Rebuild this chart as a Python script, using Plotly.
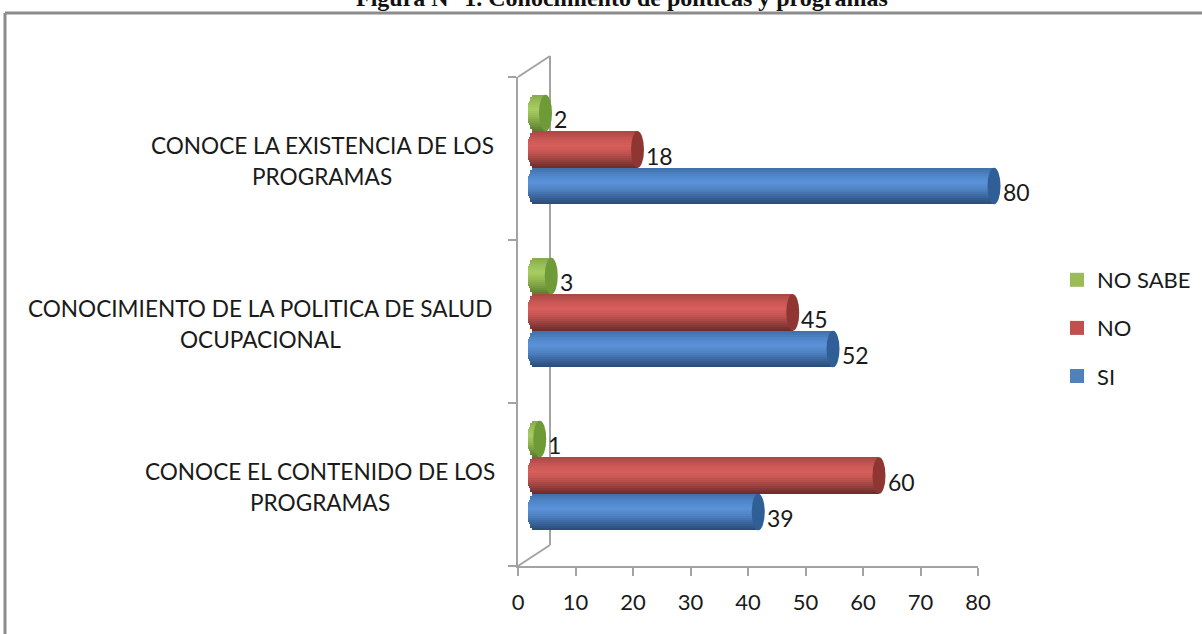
import plotly.graph_objects as go

W, H = 1202, 634

categories = ['CONOCE EL CONTENIDO DE LOS<br>PROGRAMAS',
              'CONOCIMIENTO DE LA POLITICA DE SALUD<br>OCUPACIONAL',
              'CONOCE LA EXISTENCIA DE LOS<br>PROGRAMAS']
si = [39, 52, 80]
no = [60, 45, 18]
no_sabe = [1, 3, 2]
x_ticks = [0, 10, 20, 30, 40, 50, 60, 70, 80]

# name, values, legend colour, end cap colour, cylinder shading top to bottom
series = [
    ('SI', si, '#4F81BD', '#2F5F96', ['#3F6FA8', '#4F85C8', '#5B92DA', '#4F82C2', '#3A659C', '#294B78']),
    ('NO', no, '#C0504D', '#8F3633', ['#A84644', '#C65553', '#D85F5C', '#BE514F', '#93403D', '#6A2A29']),
    ('NO SABE', no_sabe, '#9BBB59', '#6F9A38', ['#86A94A', '#9ABF57', '#A8CD62', '#94B952', '#779A3F', '#5C7C2E']),
]

# pixel geometry of the picture
AX_L, AX_R, AX_T, AX_B = 518, 978, 77, 566
DEPTH_X, DEPTH_Y = 32, 21
PX_PER_UNIT = (AX_R - AX_L) / 80
BAR_SHIFT_X, BAR_SHIFT_Y = 16, 9
BAR_W = 0.224
CAP_R = 6.5
STRIPS = 18
TEXT = '#1a1a1a'
LABEL_CENTRES = [320, 260, 322]  # px, middle of the widest line of each category
LINE_SHIFTS = [13, -18]


def px(x):
    return x / W


def py(y):
    return 1 - y / H


def mix(stops, t):
    pos = t * (len(stops) - 1)
    i = min(int(pos), len(stops) - 2)
    f = pos - i
    a = [int(stops[i][k:k + 2], 16) for k in (1, 3, 5)]
    b = [int(stops[i + 1][k:k + 2], 16) for k in (1, 3, 5)]
    return 'rgb(%d,%d,%d)' % tuple(round(p + (q - p) * f) for p, q in zip(a, b))


fig = go.Figure()

# legend entries, top to bottom
for name, values, colour, cap, stops in reversed(series):
    fig.add_trace(go.Scatter(x=[None], y=[None], name=name, mode='markers',
                             marker=dict(symbol='square', size=14, color=colour),
                             xaxis='x2', yaxis='y2', legendgroup=name))

# x axis carrier, so the ticks come from the real scale
fig.add_trace(go.Scatter(x=x_ticks, y=[0] * len(x_ticks), mode='markers', marker_opacity=0,
                         showlegend=False, hoverinfo='skip'))

shapes = []
annotations = []
idx = list(range(len(categories)))
r_units = CAP_R / PX_PER_UNIT

for s, (name, values, colour, cap, stops) in enumerate(series):
    group_off = (s - 1.5) * BAR_W
    # strips from the bottom of the cylinder to the top
    for k in range(STRIPS):
        t = (k + 0.5) / STRIPS
        round_end = r_units * (1 - (2 * t - 1) ** 2) ** 0.5
        fig.add_trace(go.Bar(
            x=[v + round_end for v in values], y=idx,
            base=[-round_end] * len(values),
            width=BAR_W / STRIPS, offset=group_off + k * BAR_W / STRIPS,
            orientation='h', marker=dict(color=mix(stops, 1 - t), line_width=0),
            xaxis='x2', yaxis='y2', showlegend=False, hoverinfo='skip'))
    for i, v in zip(idx, values):
        y0 = i + group_off
        shapes.append(dict(type='circle', xref='x2', yref='y2', xsizemode='pixel', xanchor=v,
                           x0=-CAP_R, x1=CAP_R, y0=y0, y1=y0 + BAR_W,
                           fillcolor=cap, line_width=0, layer='above'))
        annotations.append(dict(x=v, y=y0 + BAR_W / 2, xref='x2', yref='y2', text=str(v),
                                showarrow=False, xanchor='left', xshift=CAP_R, yshift=-6,
                                font=dict(family='Lato', size=23, color=TEXT)))

# category labels, one annotation per line for the wider line spacing of the original
for i, cat in enumerate(categories):
    for line, shift in zip(cat.split('<br>'), LINE_SHIFTS):
        annotations.append(dict(x=px(LABEL_CENTRES[i]), y=i, xref='paper', yref='y', text=line,
                                showarrow=False, xanchor='center', yshift=shift,
                                font=dict(family='Lato', size=22.6, color=TEXT)))

annotations.append(dict(x=px(622), y=py(13), xref='paper', yref='paper', yanchor='bottom',
                        text='<b>Figura N° 1. Conocimiento de políticas y programas</b>',
                        showarrow=False,
                        font=dict(family='Liberation Serif', size=24, color='#111')))

GREY = '#a3a3a3'
frame = [
    (AX_L + DEPTH_X, AX_T - DEPTH_Y, AX_L + DEPTH_X, AX_B - DEPTH_Y),
    (AX_L, AX_T, AX_L + DEPTH_X, AX_T - DEPTH_Y),
    (AX_L, AX_B, AX_L + DEPTH_X, AX_B - DEPTH_Y),
]
for x0, y0, x1, y1 in frame:
    shapes.append(dict(type='line', xref='paper', yref='paper', x0=px(x0), y0=py(y0), x1=px(x1), y1=py(y1),
                       line=dict(color=GREY, width=2), layer='below'))

# outer border, open at the bottom and right as in the crop
for x0, y0, x1, y1 in [(5, 13, W, 13), (5, 13, 5, H)]:
    shapes.append(dict(type='line', xref='paper', yref='paper', x0=px(x0), y0=py(y0), x1=px(x1), y1=py(y1),
                       line=dict(color='#8c8c8c', width=3), layer='below'))

fig.update_layout(
    width=W, height=H, autosize=False,
    margin=dict(l=0, r=0, t=0, b=0, pad=0, autoexpand=False),
    paper_bgcolor='white', plot_bgcolor='rgba(0,0,0,0)',
    barmode='overlay', bargap=0,
    shapes=shapes, annotations=annotations,
    legend=dict(x=px(1057), y=py(259), xanchor='left', yanchor='top', tracegroupgap=16.5,
                itemwidth=30, bgcolor='rgba(0,0,0,0)',
                font=dict(family='Lato', size=22, color=TEXT)),
    xaxis=dict(domain=[px(AX_L), px(AX_R)], range=[0, 80], tickvals=x_ticks, showgrid=False, zeroline=False,
               showline=True, linecolor=GREY, linewidth=2, ticks='outside', ticklen=8, tickwidth=2, tickcolor=GREY,
               ticklabelstandoff=8,
               tickfont=dict(family='Lato', size=22, color=TEXT), anchor='y', automargin=False),
    yaxis=dict(domain=[py(AX_B), py(AX_T)], range=[-0.5, 2.5], tickvals=[-0.5, 0.5, 1.5, 2.5], showticklabels=False,
               showgrid=False, zeroline=False, showline=True, linecolor=GREY, linewidth=2,
               ticks='outside', ticklen=8, tickwidth=2, tickcolor=GREY, anchor='x', automargin=False),
    xaxis2=dict(domain=[px(AX_L + BAR_SHIFT_X - 4 * PX_PER_UNIT), px(AX_R + BAR_SHIFT_X + 6 * PX_PER_UNIT)],
                range=[-4, 86], visible=False, anchor='y2'),
    yaxis2=dict(domain=[py(AX_B - BAR_SHIFT_Y), py(AX_T - BAR_SHIFT_Y)], range=[-0.5, 2.5],
                visible=False, anchor='x2'),
)

fig.write_html("out.html", config=dict(displayModeBar=False), post_script="document.body.style.margin='0';")
